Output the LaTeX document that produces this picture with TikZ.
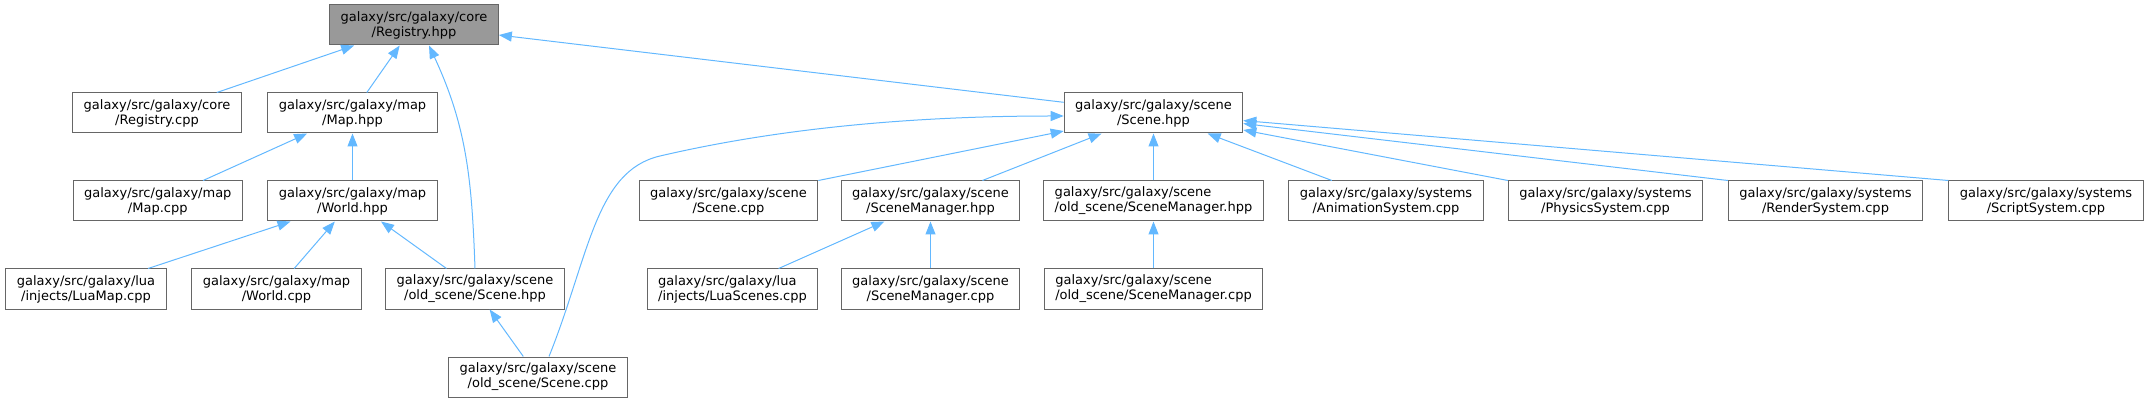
\documentclass[tikz,border=0pt]{standalone}
\usepackage{fontspec}
\setmainfont{DejaVu Sans}
\usepackage{tikz}
\usetikzlibrary{arrows.meta,positioning}
\definecolor{edgeblue}{HTML}{63B8FF}
\definecolor{boxgray}{HTML}{666666}
\definecolor{rootgray}{HTML}{999999}

\begin{document}
\begin{tikzpicture}[
    x=1pt, y=1pt,
    file/.style={rectangle, draw=boxgray, fill=white, line width=1pt, minimum height=40pt, inner xsep=11pt, inner ysep=2pt, align=center, font=\fontsize{13}{15}\selectfont},
    root file/.style={file, fill=rootgray},
    dep/.style={draw=edgeblue, line width=1pt, -{Triangle[length=13pt,width=10pt]}}
]
    \useasboundingbox (0,0) rectangle (2149,-403);

    % header being documented
    \node[root file] (registryhpp) at (414,-25) {galaxy/src/galaxy/core\\/Registry.hpp};

    % second row
    \node[file] (registrycpp) at (157,-113) {galaxy/src/galaxy/core\\/Registry.cpp};
    \node[file] (maphpp) at (352.5,-113) {galaxy/src/galaxy/map\\/Map.hpp};
    \node[file] (scenehpp) at (1153.5,-113) {galaxy/src/galaxy/scene\\/Scene.hpp};

    % third row
    \node[file] (mapcpp) at (157.75,-201) {galaxy/src/galaxy/map\\/Map.cpp};
    \node[file] (worldhpp) at (352.5,-201) {galaxy/src/galaxy/map\\/World.hpp};
    \node[file] (scenecpp) at (728.5,-201) {galaxy/src/galaxy/scene\\/Scene.cpp};
    \node[file] (scenemanagerhpp) at (930.5,-201) {galaxy/src/galaxy/scene\\/SceneManager.hpp};
    \node[file, align=left] (oldscenemanagerhpp) at (1153.5,-201) {galaxy/src/galaxy/scene\\/old\_scene/SceneManager.hpp};
    \node[file] (animationsystem) at (1386,-201) {galaxy/src/galaxy/systems\\/AnimationSystem.cpp};
    \node[file] (physicssystem) at (1605.5,-201) {galaxy/src/galaxy/systems\\/PhysicsSystem.cpp};
    \node[file] (rendersystem) at (1825.5,-201) {galaxy/src/galaxy/systems\\/RenderSystem.cpp};
    \node[file] (scriptsystem) at (2046,-201) {galaxy/src/galaxy/systems\\/ScriptSystem.cpp};

    % fourth row
    \node[file] (luamapcpp) at (86,-289) {galaxy/src/galaxy/lua\\/injects/LuaMap.cpp};
    \node[file] (worldcpp) at (276.5,-289) {galaxy/src/galaxy/map\\/World.cpp};
    \node[file] (oldscenehpp) at (475,-289) {galaxy/src/galaxy/scene\\/old\_scene/Scene.hpp};
    \node[file, align=left] (luascenescpp) at (732.5,-289) {galaxy/src/galaxy/lua\\/injects/LuaScenes.cpp};
    \node[file] (scenemanagercpp) at (930.5,-289) {galaxy/src/galaxy/scene\\/SceneManager.cpp};
    \node[file, align=left] (oldscenemanagercpp) at (1153.5,-289) {galaxy/src/galaxy/scene\\/old\_scene/SceneManager.cpp};

    % bottom row
    \node[file] (oldscenecpp) at (538,-377) {galaxy/src/galaxy/scene\\/old\_scene/Scene.cpp};

    % includes of Registry.hpp
    \draw[dep] (registrycpp) -- (registryhpp);
    \draw[dep] (maphpp) -- (registryhpp);
    \draw[dep] (oldscenehpp.north) to[out=92, in=-65] ([xshift=15pt]registryhpp.south);
    \draw[dep] (scenehpp) -- (registryhpp);

    % map headers
    \draw[dep] (mapcpp) -- (maphpp);
    \draw[dep] (worldhpp) -- (maphpp);
    \draw[dep] (luamapcpp) -- (worldhpp);
    \draw[dep] (worldcpp) -- (worldhpp);
    \draw[dep] (oldscenehpp) -- (worldhpp);
    \draw[dep] (oldscenecpp) -- (oldscenehpp);

    % includes of Scene.hpp
    \draw[dep] ([xshift=11pt]oldscenecpp.north) .. controls (589,-257) and (595,-171) .. (660,-156)
        .. controls (780,-128) and (914,-116) .. ([yshift=-3pt]scenehpp.west);
    \draw[dep] (scenecpp.north east) -- (scenehpp);
    \draw[dep] (scenemanagerhpp) -- (scenehpp);
    \draw[dep] (oldscenemanagerhpp) -- (scenehpp);
    \draw[dep] (animationsystem) -- (scenehpp);
    \draw[dep] (physicssystem.north west) -- (scenehpp);
    \draw[dep] (rendersystem.north west) -- (scenehpp);
    \draw[dep] (scriptsystem.north west) -- (scenehpp);

    % scene managers
    \draw[dep] (luascenescpp) -- (scenemanagerhpp);
    \draw[dep] (scenemanagercpp) -- (scenemanagerhpp);
    \draw[dep] (oldscenemanagercpp) -- (oldscenemanagerhpp);
\end{tikzpicture}
\end{document}
